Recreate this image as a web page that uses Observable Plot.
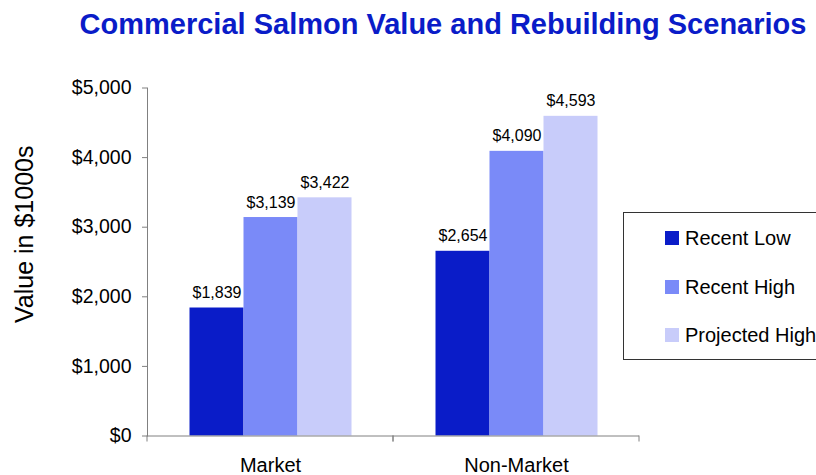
<!DOCTYPE html>
<html><head><meta charset="utf-8">
<script src="https://cdn.jsdelivr.net/npm/d3@7"></script>
<script src="https://cdn.jsdelivr.net/npm/@observablehq/plot@0.6"></script>
<style>
html,body{margin:0;padding:0;background:#fff;}
body{width:816px;height:475px;overflow:hidden;position:relative;font-family:"Liberation Sans",Arial,sans-serif;}
#title{box-sizing:border-box;width:816px;height:45px;padding:9.5px 0 0 70px;text-align:center;font-weight:bold;font-size:29px;line-height:29px;color:#0a1cc8;white-space:nowrap;}
#chart svg{display:block;}
#legend{position:absolute;left:623px;top:212px;width:230px;height:146px;border:1px solid #333;background:#fff;}
.row{position:absolute;left:0;height:14px;width:100%;}
.sw{position:absolute;left:41px;top:0;width:14px;height:14px;}
.lb{position:absolute;left:61px;top:0;font-size:20px;line-height:14px;white-space:nowrap;color:#000;}
</style></head>
<body>
<div id="title"></div>
<div id="chart"></div>
<div id="legend"></div>
<script>
const title = "Commercial Salmon Value and Rebuilding Scenarios";
const categories = ["Market", "Non-Market"];
const series = ["Recent Low", "Recent High", "Projected High"];
const recentLow = [1839, 2654];
const recentHigh = [3139, 4090];
const projectedHigh = [3422, 4593];
const seriesColors = ["#0a1cc8", "#7a8af8", "#c8ccfa"];
const yTicks = [0, 1000, 2000, 3000, 4000, 5000];
const yLabel = "Value in $1000s";

const AXIS = "#808080";
const money = v => "$" + d3.format(",")(v);
const seriesValues = [recentLow, recentHigh, projectedHigh];
const data = categories.flatMap((c, i) => series.map((s, j) => ({category: c, series: s, value: seriesValues[j][i]})));

document.getElementById("title").textContent = title;

// boundary ticks under the category axis (Excel-style), drawn per facet from the facet frame
const boundaryTicks = (index, scales, values, dimensions) => {
  const {marginLeft, marginRight, width} = dimensions;
  const y0 = scales.y(0);
  const g = d3.create("svg:g").attr("stroke", AXIS).attr("stroke-width", 1);
  for (const x of [marginLeft, width - marginRight]) {
    g.append("line").attr("x1", x).attr("x2", x).attr("y1", y0).attr("y2", y0 + 6);
  }
  return g.node();
};

const chart = Plot.plot({
  width: 816,
  height: 430,
  marginLeft: 146.5,
  marginRight: 177,
  marginTop: 42.5,
  marginBottom: 39.5,
  style: {fontFamily: "'Liberation Sans', Arial, sans-serif", color: "#000", background: "#fff"},
  fx: {domain: categories, padding: 0, label: null},
  x: {domain: series, paddingInner: 0, paddingOuter: 0.76, axis: null},
  y: {domain: [0, 5000], label: null},
  color: {domain: series, range: seriesColors},
  marks: [
    Plot.barY(data, {fx: "category", x: "series", y: "value", fill: "series"}),
    Plot.text(data, {fx: "category", x: "series", y: "value", text: d => money(d.value), lineAnchor: "bottom", dy: -10, fontSize: 16, fill: "#000"}),
    Plot.ruleY([0], {stroke: AXIS}),
    Plot.frame({anchor: "left", facetAnchor: "left", stroke: AXIS}),
    boundaryTicks,
    Plot.axisY({ticks: yTicks, tickFormat: money, tickSize: 5, tickPadding: 11, fontSize: 19.5, stroke: AXIS, label: null}),
    Plot.axisFx({anchor: "bottom", tickSize: 0, tickPadding: 22, fontSize: 20, label: null}),
    Plot.text([yLabel], {facetAnchor: "left", frameAnchor: "left", rotate: -90, dx: -123, dy: 61, fontSize: 25, text: d => d, fill: "#000"})
  ]
});
document.getElementById("chart").appendChild(chart);

const legend = document.getElementById("legend");
series.forEach((s, i) => {
  const row = document.createElement("div");
  row.className = "row";
  row.style.top = (18 + i * 48.5) + "px";
  const sw = document.createElement("span");
  sw.className = "sw";
  sw.style.background = seriesColors[i];
  const lb = document.createElement("span");
  lb.className = "lb";
  lb.textContent = s;
  row.appendChild(sw);
  row.appendChild(lb);
  legend.appendChild(row);
});
</script>
</body></html>
